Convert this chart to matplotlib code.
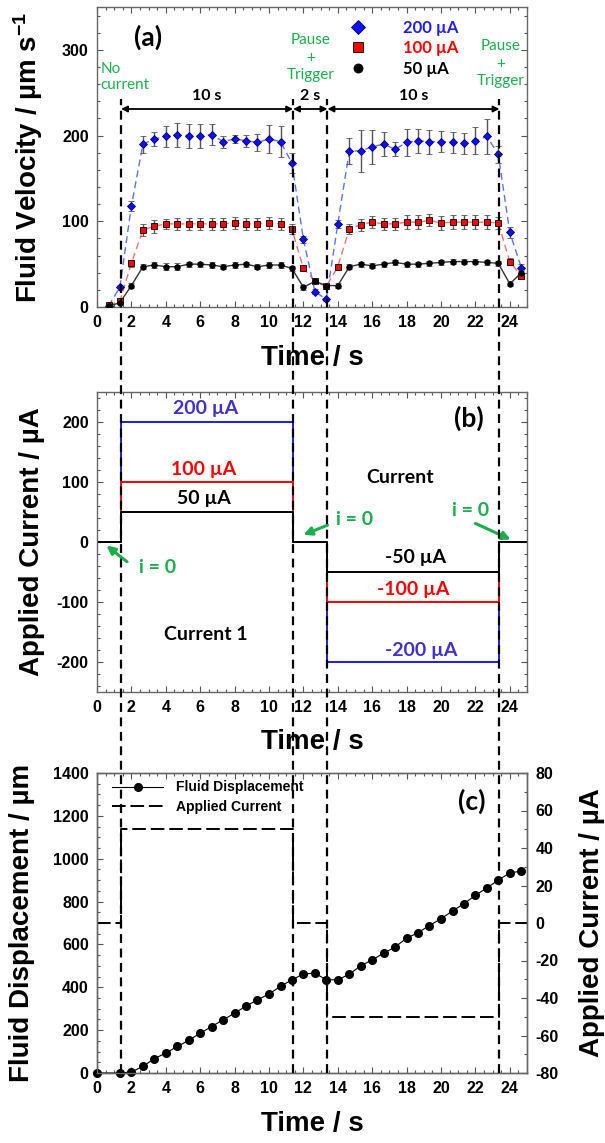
import matplotlib
matplotlib.use("Agg")
import matplotlib.pyplot as plt
from matplotlib.lines import Line2D
from matplotlib.transforms import blended_transform_factory
from matplotlib.ticker import MultipleLocator

plt.rcParams['font.family'] = ['Liberation Sans', 'DejaVu Sans']
plt.rcParams['font.weight'] = 'bold'
plt.rcParams['mathtext.default'] = 'regular'
plt.rcParams['axes.unicode_minus'] = False

ANNOT_FONT = ['Lato', 'Liberation Sans', 'DejaVu Sans']
GREEN = '#19b04b'

# ---------------- data ----------------
# (a) fluid velocity (um/s) versus time for three applied currents
time_v = [0.67, 1.33, 2.00, 2.67, 3.33, 4.00, 4.67, 5.33, 6.00, 6.67,
          7.33, 8.00, 8.67, 9.33, 10.00, 10.67, 11.33, 12.00, 12.67, 13.33,
          14.00, 14.67, 15.33, 16.00, 16.67, 17.33, 18.00, 18.67, 19.33, 20.00,
          20.67, 21.33, 22.00, 22.67, 23.33, 24.00, 24.67]
vel_200 = [1, 23, 118, 190, 196, 199, 201, 200, 200, 201,
           193, 196, 194, 192, 196, 193, 168, 79, 18, 9,
           97, 182, 182, 187, 190, 184, 192, 194, 193, 193,
           192, 191, 194, 199, 178, 87, 46]
err_200 = [1, 3, 6, 10, 8, 12, 14, 14, 14, 12,
           7, 5, 7, 10, 16, 18, 12, 4, 3, 2,
           5, 15, 24, 20, 14, 8, 16, 14, 14, 12,
           12, 12, 16, 20, 10, 6, 4]
vel_100 = [2, 7, 51, 90, 94, 97, 97, 97, 97, 97,
           97, 98, 97, 97, 98, 97, 91, 45, 30, 24,
           47, 91, 96, 99, 97, 97, 99, 99, 101, 98,
           99, 99, 99, 99, 98, 53, 36]
err_100 = [1, 2, 4, 7, 8, 6, 7, 7, 7, 7,
           7, 7, 7, 7, 7, 7, 6, 3, 3, 3,
           3, 6, 7, 7, 7, 7, 8, 8, 7, 8,
           8, 8, 8, 8, 7, 4, 3]
vel_50 = [1, 5, 25, 47, 49, 47, 47, 50, 50, 49,
          47, 49, 50, 47, 49, 49, 45, 23, 30, 25,
          25, 47, 50, 48, 50, 52, 50, 50, 51, 52,
          53, 53, 53, 52, 51, 27, 40]
err_50 = [1, 2, 3, 3, 3, 4, 4, 3, 3, 3,
          3, 3, 3, 3, 3, 3, 3, 3, 3, 3,
          3, 3, 3, 3, 3, 3, 3, 3, 3, 3,
          3, 3, 3, 3, 3, 3, 3]
series_labels = ['200 µA', '100 µA', '50 µA']

# switching instants of the current programme (s)
switch_times = [1.4, 11.4, 13.4, 23.4]
t_end = 25.0

# (b) applied current levels (uA)
forward_levels = [200, 100, 50]
reverse_levels = [-200, -100, -50]

# (c) cumulative fluid displacement (um) and the 50 uA programme
time_d = [0.00, 1.33, 2.00, 2.67, 3.33, 4.00, 4.67, 5.33, 6.00, 6.67,
          7.33, 8.00, 8.67, 9.33, 10.00, 10.67, 11.33, 12.00, 12.67, 13.33,
          14.00, 14.67, 15.33, 16.00, 16.67, 17.33, 18.00, 18.67, 19.33, 20.00,
          20.67, 21.33, 22.00, 22.67, 23.33, 24.00, 24.67]
displacement = [0, 0, 5, 31, 67, 93, 124, 152, 186, 217,
                248, 279, 313, 341, 369, 404, 435, 462, 466, 435,
                435, 461, 500, 528, 559, 588, 629, 655, 688, 720,
                756, 790, 829, 864, 900, 934, 942]
current_c = [0, 50, 0, -50, 0]

# ---------------- figure ----------------
fig = plt.figure(figsize=(6.05, 11.43), dpi=100)
L, W, H = 97 / 605, 430 / 605, 300 / 1143
axa = fig.add_axes([L, (1143 - 307) / 1143, W, H])
axb = fig.add_axes([L, (1143 - 692) / 1143, W, H])
axc = fig.add_axes([L, (1143 - 1073) / 1143, W, H])


def style(ax, right=True):
    ax.tick_params(which='both', direction='in', top=True, right=right,
                   labelsize=11.5, width=0.8, color='#555', pad=6)
    ax.tick_params(which='major', length=4.5)
    ax.tick_params(which='minor', length=2.5)
    for sp in ax.spines.values():
        sp.set_color('#666')
        sp.set_linewidth(1.0)
    ax.set_xlim(0, t_end)
    ax.xaxis.set_major_locator(MultipleLocator(2))
    ax.xaxis.set_minor_locator(MultipleLocator(0.5))
    ax.set_xlabel('Time / s', fontsize=20, fontweight='bold')
    ax.xaxis.set_label_coords(0.5, -0.125)


def step_profile(levels_on, level_off=0):
    """Return x/y for a post-step trace: off, on, off, -on, off."""
    xs = [0] + switch_times + [t_end]
    ys = [level_off, levels_on[0], level_off, levels_on[1], level_off, level_off]
    return xs, ys


# ---- (a) velocity ----
style(axa)
axa.set_ylim(0, 350)
axa.yaxis.set_major_locator(MultipleLocator(100))
axa.yaxis.set_minor_locator(MultipleLocator(20))
axa.set_ylabel('Fluid Velocity / µm s$^{-1}$', fontsize=20, fontweight='bold')
axa.yaxis.set_label_coords(-0.12, 0.5)

specs = [
    (vel_200, err_200, '#1010ee', '#6070ff', 'D', 4.5, '#000080', (0, (5, 3))),
    (vel_100, err_100, '#ff0000', '#ff7070', 's', 4.5, '#000000', (0, (5, 3))),
    (vel_50, err_50, '#000000', '#333333', 'o', 4.0, '#000000', '-'),
]
handles = []
for i, (vals, errs, mcol, lcol, mk, ms, mec, ls) in enumerate(specs):
    axa.plot(time_v, vals, ls=ls, color=lcol, lw=1.0, zorder=2 + i)
    axa.errorbar(time_v, vals, yerr=errs, fmt=mk, ms=ms, mfc=mcol, mec=mec,
                 mew=0.6, ecolor='#555555', elinewidth=1.0, capsize=2,
                 capthick=1.0, zorder=3 + i)
    handles.append(Line2D([], [], ls='none', marker=mk, ms=ms + 2.5,
                          mfc=mcol, mec=mec, mew=0.6))

leg = axa.legend(handles, series_labels, loc='upper left',
                 bbox_to_anchor=(0.588, 0.958), frameon=False, borderpad=0,
                 borderaxespad=0, handlelength=1.0, handletextpad=2.2,
                 labelspacing=0.28, numpoints=1,
                 prop=dict(family=ANNOT_FONT, weight='bold', size=12))
for txt, col in zip(leg.get_texts(), ['#1f1fff', '#ff0000', '#000000']):
    txt.set_color(col)

axa.text(0.119, 0.9, '(a)', transform=axa.transAxes, fontsize=19,
         fontweight='bold', family=ANNOT_FONT, ha='center', va='center')
axa.text(0.2, 268, 'No\ncurrent', color=GREEN, fontsize=11, ha='left',
         va='center', family=ANNOT_FONT, fontweight='normal', linespacing=1.2)
for tx, ty in [(12.4, 291), (23.45, 284)]:
    axa.text(tx, ty, 'Pause\n+\nTrigger', color=GREEN, fontsize=11,
             ha='center', va='center', family=ANNOT_FONT,
             fontweight='normal', linespacing=1.3)

arrow_y = 231
for (t0, t1), lab in zip([(switch_times[0], switch_times[1]),
                          (switch_times[1], switch_times[2]),
                          (switch_times[2], switch_times[3])],
                         ['10 s', '2 s', '10 s']):
    axa.annotate('', xy=(t1, arrow_y), xytext=(t0, arrow_y),
                 arrowprops=dict(arrowstyle='<|-|>', color='black', lw=1.3,
                                 mutation_scale=9, shrinkA=0, shrinkB=0))
    axa.text((t0 + t1) / 2, arrow_y + 7, lab, ha='center', va='bottom',
             fontsize=11.5, fontweight='bold', family=ANNOT_FONT)

# ---- (b) applied current ----
style(axb)
axb.set_ylim(-250, 250)
axb.yaxis.set_major_locator(MultipleLocator(100))
axb.yaxis.set_minor_locator(MultipleLocator(20))
axb.set_ylabel('Applied Current / µA', fontsize=20, fontweight='bold')
axb.yaxis.set_label_coords(-0.12, 0.5)

for fwd, rev, col in zip(forward_levels, reverse_levels,
                         ['#1a1aff', '#ff0000', '#000000']):
    xs, ys = step_profile([fwd, rev])
    axb.step(xs, ys, where='post', color=col, lw=1.4)

bfont = dict(family=ANNOT_FONT, fontweight='bold', fontsize=14,
             ha='center', va='center')
axb.text(6.3, 222, '200 µA', color='#4030d0', **bfont)
axb.text(6.2, 120, '100 µA', color='#ff0000', **bfont)
axb.text(6.2, 72, '50 µA', color='#000000', **bfont)
axb.text(18.5, -25, '-50 µA', color='#000000', **bfont)
axb.text(18.4, -79, '-100 µA', color='#ff0000', **bfont)
axb.text(18.85, -181, '-200 µA', color='#4030d0', **bfont)
axb.text(17.6, 107, 'Current', color='#000000', **bfont)
axb.text(6.3, -154, 'Current 1', color='#000000', **bfont)
axb.text(21.6, 206, '(b)', color='#000000', family=ANNOT_FONT,
         fontweight='bold', fontsize=19, ha='center', va='center')

gfont = dict(family=ANNOT_FONT, fontweight='bold', fontsize=14,
             color=GREEN, ha='center', va='center')
garrow = dict(arrowstyle='-|>', color=GREEN, lw=2.2, mutation_scale=12,
              shrinkA=0, shrinkB=0)
axb.text(15.0, 38, 'i = 0', **gfont)
axb.annotate('', xy=(12.0, 12), xytext=(13.4, 28), arrowprops=garrow)
axb.text(21.7, 52, 'i = 0', **gfont)
axb.annotate('', xy=(24.05, 4), xytext=(22.0, 31), arrowprops=garrow)
axb.text(3.5, -43, 'i = 0', **gfont)
axb.annotate('', xy=(0.55, -6), xytext=(1.75, -33), arrowprops=garrow)

# ---- (c) displacement ----
style(axc, right=False)
axc.set_ylim(0, 1400)
axc.yaxis.set_major_locator(MultipleLocator(200))
axc.yaxis.set_minor_locator(MultipleLocator(50))
axc.set_ylabel('Fluid Displacement / µm', fontsize=20, fontweight='bold')
axc.yaxis.set_label_coords(-0.145, 0.5)
axc.plot(time_d, displacement, '-o', color='black', lw=0.8, ms=5.5,
         zorder=3, clip_on=False)

axr = axc.twinx()
axr.set_ylim(-80, 80)
axr.yaxis.set_major_locator(MultipleLocator(20))
axr.yaxis.set_minor_locator(MultipleLocator(10))
axr.tick_params(which='both', direction='in', labelsize=11.5, width=0.8,
                color='#555', pad=6)
axr.tick_params(which='major', length=4.5)
axr.tick_params(which='minor', length=2.5)
for sp in axr.spines.values():
    sp.set_color('#666')
    sp.set_linewidth(1.0)
axr.set_ylabel('Applied Current / µA', fontsize=20, fontweight='bold')
axr.yaxis.set_label_coords(1.12, 0.5)
xs_c = [0] + switch_times + [t_end]
axr.step(xs_c, current_c + [current_c[-1]], where='post', color='black',
         lw=1.4, ls=(0, (7, 2.5)))

leg_c = axc.legend(
    [Line2D([], [], color='black', lw=0.8, marker='o', ms=5.5),
     Line2D([], [], color='black', lw=1.4, ls=(0, (7, 2.5)))],
    ['Fluid Displacement', 'Applied Current'], loc='upper left',
    bbox_to_anchor=(0.035, 0.975), frameon=False, borderpad=0,
    borderaxespad=0, handlelength=3.7, handletextpad=0.9, labelspacing=0.4,
    prop=dict(weight='bold', size=10))
leg_c.set_zorder(5)
axc.text(0.872, 0.905, '(c)', transform=axc.transAxes, fontsize=19,
         fontweight='bold', family=ANNOT_FONT, ha='center', va='center')

# ---- switching instants drawn through all three panels ----
btrans = blended_transform_factory(axa.transData, fig.transFigure)
for ts in switch_times:
    fig.add_artist(Line2D([ts, ts], [(1143 - 1073) / 1143, (1143 - 99) / 1143],
                          transform=btrans, color='black', lw=1.6,
                          ls=(0, (4, 2.5)), zorder=10))

fig.savefig('out.png', dpi=100)
